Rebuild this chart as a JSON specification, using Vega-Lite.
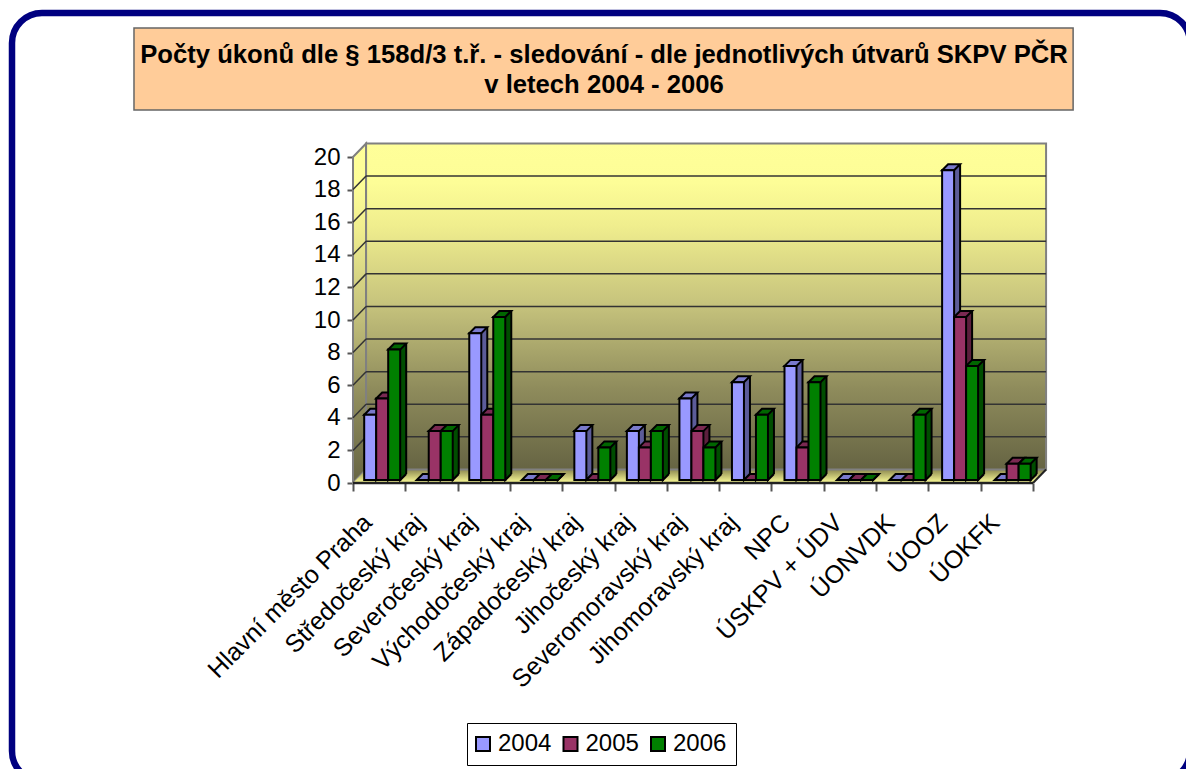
{"$schema":"https://vega.github.io/schema/vega-lite/v6.json","autosize":"none","width":1178,"height":768,"padding":{"left":12,"top":13,"right":0,"bottom":0},"background":"white","view":{"stroke":"#000080","strokeWidth":6.5,"cornerRadius":30,"fill":"white"},"title":{"text":["Počty úkonů dle § 158d/3 t.ř. - sledování - dle jednotlivých útvarů SKPV PČR","v letech 2004 - 2006"],"font":"Liberation Sans","fontSize":25.65,"fontWeight":"bold","color":"black","anchor":"middle","frame":"group","orient":"top","lineHeight":30,"offset":-86,"dx":3,"zindex":1},"datasets":{"bars":[{"kraj":"Hlavní město Praha","year":"2004","v":4},{"kraj":"Hlavní město Praha","year":"2005","v":5},{"kraj":"Hlavní město Praha","year":"2006","v":8},{"kraj":"Středočeský kraj","year":"2004","v":0},{"kraj":"Středočeský kraj","year":"2005","v":3},{"kraj":"Středočeský kraj","year":"2006","v":3},{"kraj":"Severočeský kraj","year":"2004","v":9},{"kraj":"Severočeský kraj","year":"2005","v":4},{"kraj":"Severočeský kraj","year":"2006","v":10},{"kraj":"Východočeský kraj","year":"2004","v":0},{"kraj":"Východočeský kraj","year":"2005","v":0},{"kraj":"Východočeský kraj","year":"2006","v":0},{"kraj":"Západočeský kraj","year":"2004","v":3},{"kraj":"Západočeský kraj","year":"2005","v":0},{"kraj":"Západočeský kraj","year":"2006","v":2},{"kraj":"Jihočeský kraj","year":"2004","v":3},{"kraj":"Jihočeský kraj","year":"2005","v":2},{"kraj":"Jihočeský kraj","year":"2006","v":3},{"kraj":"Severomoravský kraj","year":"2004","v":5},{"kraj":"Severomoravský kraj","year":"2005","v":3},{"kraj":"Severomoravský kraj","year":"2006","v":2},{"kraj":"Jihomoravský kraj","year":"2004","v":6},{"kraj":"Jihomoravský kraj","year":"2005","v":0},{"kraj":"Jihomoravský kraj","year":"2006","v":4},{"kraj":"NPC","year":"2004","v":7},{"kraj":"NPC","year":"2005","v":2},{"kraj":"NPC","year":"2006","v":6},{"kraj":"ÚSKPV + ÚDV","year":"2004","v":0},{"kraj":"ÚSKPV + ÚDV","year":"2005","v":0},{"kraj":"ÚSKPV + ÚDV","year":"2006","v":0},{"kraj":"ÚONVDK","year":"2004","v":0},{"kraj":"ÚONVDK","year":"2005","v":0},{"kraj":"ÚONVDK","year":"2006","v":4},{"kraj":"ÚOOZ","year":"2004","v":19},{"kraj":"ÚOOZ","year":"2005","v":10},{"kraj":"ÚOOZ","year":"2006","v":7},{"kraj":"ÚOKFK","year":"2004","v":0},{"kraj":"ÚOKFK","year":"2005","v":1},{"kraj":"ÚOKFK","year":"2006","v":1}],"left":[{"d":0,"hi":20,"lo":0},{"d":0.25,"hi":20.83,"lo":0.83}],"back":[{"d":0.25,"hi":20.83,"lo":0.83},{"d":13.25,"hi":20.83,"lo":0.83}],"floor":[{"h":0,"a":0,"b":13},{"h":0.83,"a":0.25,"b":13.25}],"grid":[{"g":2,"gb":2.83},{"g":4,"gb":4.83},{"g":6,"gb":6.83},{"g":8,"gb":8.83},{"g":10,"gb":10.83},{"g":12,"gb":12.83},{"g":14,"gb":14.83},{"g":16,"gb":16.83},{"g":18,"gb":18.83}],"one":[{"part":"frame"}]},"layer":[
{"data":{"name":"one"},"mark":{"type":"rect","fill":"#FFCC99","stroke":"#666666","strokeWidth":1.5},"encoding":{"x":{"datum":-4.187,"type":"quantitative","scale":{"domain":[0,13],"range":[341,1021]},"axis":null},"x2":{"datum":13.767},"y":{"datum":27.91,"type":"quantitative","scale":{"domain":[0,20],"range":[470,144]},"axis":null},"y2":{"datum":22.88}}},
{"data":{"name":"left"},"mark":{"type":"area","stroke":"#808080","strokeWidth":2,"fill":{"x1":0,"y1":0,"x2":0,"y2":1,"gradient":"linear","stops":[{"offset":0,"color":"#FFFF99"},{"offset":0.12,"color":"#FDFD97"},{"offset":0.25,"color":"#F0EE8E"},{"offset":0.5,"color":"#C5C27C"},{"offset":0.75,"color":"#8F8C5C"},{"offset":1,"color":"#666443"}]}},"encoding":{"x":{"field":"d","type":"quantitative","scale":{"domain":[0,13],"range":[341,1021]},"axis":null},"y":{"field":"hi","type":"quantitative","scale":{"domain":[0,20],"range":[470,144]},"axis":{"values":[0,2,4,6,8,10,12,14,16,18,20],"title":null,"grid":false,"domain":false,"offset":-341,"tickSize":6,"tickColor":"#555555","tickWidth":2,"labelFont":"Liberation Sans","labelFontSize":24,"labelColor":"black","labelPadding":7}},"y2":{"field":"lo"}}},
{"data":{"name":"floor"},"mark":{"type":"area","orient":"horizontal","fill":{"x1":0,"y1":1,"x2":0,"y2":0,"gradient":"linear","stops":[{"offset":0,"color":"#FFFF99"},{"offset":1,"color":"#8C8850"}]}},"encoding":{"y":{"field":"h","type":"quantitative","scale":{"domain":[0,20],"range":[470,144]},"axis":null},"x":{"field":"a","type":"quantitative","scale":{"domain":[0,13],"range":[341,1021]},"axis":null},"x2":{"field":"b"}}},
{"data":{"name":"back"},"mark":{"type":"area","stroke":"#808080","strokeWidth":2,"fill":{"x1":0,"y1":0,"x2":0,"y2":1,"gradient":"linear","stops":[{"offset":0,"color":"#FFFF99"},{"offset":0.12,"color":"#FDFD97"},{"offset":0.25,"color":"#F0EE8E"},{"offset":0.5,"color":"#C5C27C"},{"offset":0.75,"color":"#8F8C5C"},{"offset":1,"color":"#666443"}]}},"encoding":{"x":{"field":"d","type":"quantitative","scale":{"domain":[0,13],"range":[341,1021]},"axis":null},"y":{"field":"hi","type":"quantitative","scale":{"domain":[0,20],"range":[470,144]},"axis":null},"y2":{"field":"lo"}}},
{"data":{"name":"grid"},"mark":{"type":"rule","stroke":"#333333","strokeWidth":1.5},"encoding":{"x":{"datum":0.25,"type":"quantitative","scale":{"domain":[0,13],"range":[341,1021]},"axis":null},"x2":{"datum":13.25},"y":{"field":"gb","type":"quantitative","scale":{"domain":[0,20],"range":[470,144]},"axis":null}}},
{"data":{"name":"grid"},"mark":{"type":"rule","stroke":"#333333","strokeWidth":1.5},"encoding":{"x":{"datum":0,"type":"quantitative","scale":{"domain":[0,13],"range":[341,1021]},"axis":null},"x2":{"datum":0.25},"y":{"field":"g","type":"quantitative","scale":{"domain":[0,20],"range":[470,144]},"axis":null},"y2":{"field":"gb"}}},
{"data":{"name":"one"},"mark":{"type":"rule","stroke":"#222222","strokeWidth":2},"encoding":{"x":{"datum":13,"type":"quantitative","scale":{"domain":[0,13],"range":[341,1021]},"axis":null},"x2":{"datum":13.25},"y":{"datum":0,"type":"quantitative","scale":{"domain":[0,20],"range":[470,144]},"axis":null},"y2":{"datum":0.83}}},
{"data":{"name":"one"},"mark":{"type":"rule","stroke":"#222222","strokeWidth":2.5},"encoding":{"x":{"datum":0,"type":"quantitative","scale":{"domain":[0,13],"range":[341,1021]},"axis":null},"x2":{"datum":13},"y":{"datum":0,"type":"quantitative","scale":{"domain":[0,20],"range":[470,144]},"axis":null}}},
{"data":{"name":"bars"},"mark":{"type":"bar","opacity":0},"encoding":{"x":{"field":"kraj","type":"nominal","sort":null,"title":null,"axis":{"tickBand":"extent","domain":false,"offset":-298,"tickSize":8,"tickColor":"#555555","tickWidth":2,"labelAngle":-45,"labelAlign":"right","labelBaseline":"middle","labelFont":"Liberation Sans","labelFontSize":25,"labelColor":"black","labelPadding":27,"labelOffset":-12,"labelLimit":400},"scale":{"domain":["Hlavní město Praha","Středočeský kraj","Severočeský kraj","Východočeský kraj","Západočeský kraj","Jihočeský kraj","Severomoravský kraj","Jihomoravský kraj","NPC","ÚSKPV + ÚDV","ÚONVDK","ÚOOZ","ÚOKFK"],"range":[341,1021],"paddingInner":0,"paddingOuter":0}},"y":{"field":"v","type":"quantitative","stack":null,"scale":{"domain":[0,20],"range":[470,144]},"axis":null}}},
{"data":{"name":"bars"},"mark":{"type":"bar","width":6,"stroke":null},"encoding":{"x":{"field":"kraj","type":"nominal","sort":null,"axis":null,"scale":{"domain":["Hlavní město Praha","Středočeský kraj","Severočeský kraj","Východočeský kraj","Západočeský kraj","Jihočeský kraj","Severomoravský kraj","Jihomoravský kraj","NPC","ÚSKPV + ÚDV","ÚONVDK","ÚOOZ","ÚOKFK"],"range":[353,1036],"paddingInner":0.3117,"paddingOuter":0.156}},"xOffset":{"field":"year","type":"nominal","scale":{"domain":["2004","2005","2006"],"range":[0,36]}},"y":{"field":"v","type":"quantitative","stack":null,"scale":{"domain":[0,20],"range":[461,135]},"axis":null},"color":{"field":"year","type":"nominal","legend":null,"scale":{"domain":["2004","2005","2006"],"range":["#5C5C99","#5C1F3D","#004D00"]}}}},
{"data":{"name":"bars"},"mark":{"type":"bar","width":2,"fill":"black","stroke":null},"encoding":{"x":{"field":"kraj","type":"nominal","sort":null,"axis":null,"scale":{"domain":["Hlavní město Praha","Středočeský kraj","Severočeský kraj","Východočeský kraj","Západočeský kraj","Jihočeský kraj","Severomoravský kraj","Jihomoravský kraj","NPC","ÚSKPV + ÚDV","ÚONVDK","ÚOOZ","ÚOKFK"],"range":[356,1039],"paddingInner":0.3117,"paddingOuter":0.156}},"xOffset":{"field":"year","type":"nominal","scale":{"domain":["2004","2005","2006"],"range":[0,36]}},"y":{"field":"v","type":"quantitative","stack":null,"scale":{"domain":[0,20],"range":[461,135]},"axis":null}}},
{"data":{"name":"bars"},"mark":{"type":"point","filled":true,"opacity":1,"size":400,"stroke":"black","strokeWidth":2,"shape":"M0.6,-0.6 L0.6,0 L1.2,-0.6"},"encoding":{"x":{"field":"kraj","type":"nominal","sort":null,"axis":null,"scale":{"domain":["Hlavní město Praha","Středočeský kraj","Severočeský kraj","Východočeský kraj","Západočeský kraj","Jihočeský kraj","Severomoravský kraj","Jihomoravský kraj","NPC","ÚSKPV + ÚDV","ÚONVDK","ÚOOZ","ÚOKFK"],"range":[344,1027],"paddingInner":0.3117,"paddingOuter":0.156}},"xOffset":{"field":"year","type":"nominal","scale":{"domain":["2004","2005","2006"],"range":[0,36]}},"y":{"datum":0,"type":"quantitative","scale":{"domain":[0,20],"range":[467,141]},"axis":null},"color":{"field":"year","type":"nominal","legend":null,"scale":{"domain":["2004","2005","2006"],"range":["#5C5C99","#5C1F3D","#004D00"]}}}},
{"data":{"name":"bars"},"mark":{"type":"point","filled":true,"opacity":1,"size":400,"stroke":"black","strokeWidth":2,"shape":"M-0.6,0 L0.6,0 L1.2,-0.6 L0,-0.6 Z"},"encoding":{"x":{"field":"kraj","type":"nominal","sort":null,"axis":null,"scale":{"domain":["Hlavní město Praha","Středočeský kraj","Severočeský kraj","Východočeský kraj","Západočeský kraj","Jihočeský kraj","Severomoravský kraj","Jihomoravský kraj","NPC","ÚSKPV + ÚDV","ÚONVDK","ÚOOZ","ÚOKFK"],"range":[344,1027],"paddingInner":0.3117,"paddingOuter":0.156}},"xOffset":{"field":"year","type":"nominal","scale":{"domain":["2004","2005","2006"],"range":[0,36]}},"y":{"field":"v","type":"quantitative","scale":{"domain":[0,20],"range":[467,141]},"axis":null},"color":{"field":"year","type":"nominal","legend":null,"scale":{"domain":["2004","2005","2006"],"range":["#7A7ACC","#7A2952","#006600"]}}}},
{"data":{"name":"bars"},"mark":{"type":"bar","stroke":"black","strokeWidth":2},"encoding":{"x":{"field":"kraj","type":"nominal","sort":null,"axis":null,"scale":{"domain":["Hlavní město Praha","Středočeský kraj","Severočeský kraj","Východočeský kraj","Západočeský kraj","Jihočeský kraj","Severomoravský kraj","Jihomoravský kraj","NPC","ÚSKPV + ÚDV","ÚONVDK","ÚOOZ","ÚOKFK"],"range":[344,1027],"paddingInner":0.3117,"paddingOuter":0.156}},"xOffset":{"field":"year","type":"nominal","scale":{"domain":["2004","2005","2006"],"range":[0,36]}},"y":{"field":"v","type":"quantitative","stack":null,"scale":{"domain":[0,20],"range":[467,141]},"axis":null},"color":{"field":"year","type":"nominal","scale":{"domain":["2004","2005","2006"],"range":["#9999FF","#993366","#008000"]},"legend":{"title":null,"orient":"none","legendX":455,"legendY":710,"direction":"horizontal","columns":3,"symbolType":"square","symbolSize":196,"symbolStrokeColor":"black","symbolStrokeWidth":2,"symbolOffset":-5,"labelFont":"Liberation Sans","labelFontSize":24,"labelColor":"black","labelOffset":3,"columnPadding":7.5,"padding":9,"strokeColor":"black","fillColor":"white","symbolOpacity":1}}}}
],"resolve":{"scale":{"x":"independent","y":"independent","color":"independent"}}}
